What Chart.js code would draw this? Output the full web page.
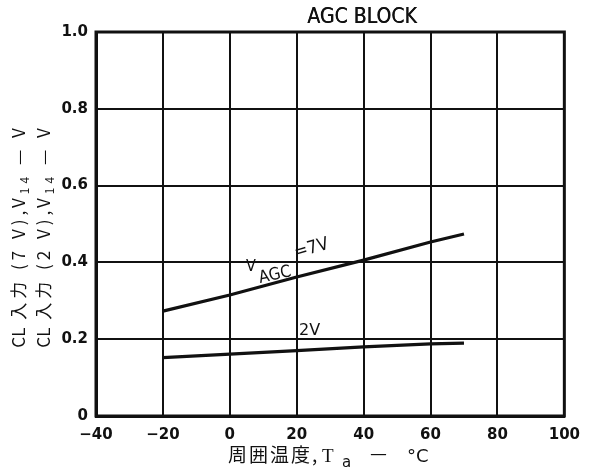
<!DOCTYPE html>
<html>
<head>
<meta charset="utf-8">
<script src="https://cdn.jsdelivr.net/npm/chart.js@4"></script>
<style>
  html, body { margin: 0; padding: 0; background: #fff; }
  #wrap { width: 590px; height: 475px; }
</style>
</head>
<body>
<div id="wrap"><canvas id="c" width="590" height="475"></canvas></div>
<script>
// Ambient temperature (°C) and the CL input voltage V14 (V) for two AGC voltages
const temps = [-20, 0, 20, 40, 60, 70];
const vAgc7 = [0.273, 0.315, 0.362, 0.406, 0.453, 0.474];
const vAgc2 = [0.152, 0.161, 0.170, 0.180, 0.188, 0.190];

const xTicks = [-40, -20, 0, 20, 40, 60, 80, 100];
const yTicks = [0, 0.2, 0.4, 0.6, 0.8, 1.0];
const yTickLabels = ['0', '0.2', '0.4', '0.6', '0.8', '1.0'];

const titleText = 'AGC BLOCK';
const yTitle1 = [{t: 'CL', tight: true}, {t: ' 入力 (7 V),V'}, {t: '14', sub: true}, {t: ' — V'}];
const yTitle2 = [{t: 'CL', tight: true}, {t: ' 入力 (2 V),V'}, {t: '14', sub: true}, {t: ' — V'}];

const pts = (ys) => temps.map((t, i) => ({x: t, y: ys[i]}));

const INK = '#111';
const JP = '"Noto Sans CJK JP", "DejaVu Sans", sans-serif';
const SPACING = '4px';

// Text runs with subscript parts and optional tight (unspaced) parts
function setPart(ctx, p, font, subFont) {
  ctx.font = p.sub ? subFont : font;
  ctx.letterSpacing = p.tight ? '0px' : SPACING;
}
function richWidth(ctx, parts, font, subFont) {
  let w = 0;
  for (const p of parts) { setPart(ctx, p, font, subFont); w += ctx.measureText(p.t).width; }
  return w;
}
function drawRich(ctx, parts, x, y, font, subFont, subDrop) {
  let cx = x;
  for (const p of parts) {
    setPart(ctx, p, font, subFont);
    ctx.fillText(p.t, cx, p.sub ? y + subDrop : y);
    cx += ctx.measureText(p.t).width;
  }
}

const labels = {
  id: 'labels',
  afterDraw(chart) {
    const ctx = chart.ctx;
    ctx.save();
    ctx.fillStyle = INK;
    ctx.textBaseline = 'alphabetic';
    ctx.textAlign = 'left';

    // title
    ctx.font = '21px "Liberation Sans Narrow", "DejaVu Sans Condensed", sans-serif';
    ctx.textAlign = 'center';
    ctx.fillText(titleText, 362, 23);
    ctx.fillText(titleText, 362.4, 23);
    ctx.textAlign = 'left';

    // rotated y-axis titles
    const yf = '17px ' + JP, ysf = '12px ' + JP;
    [[yTitle1, 25], [yTitle2, 50]].forEach(([parts, bx]) => {
      const w = richWidth(ctx, parts, yf, ysf);
      ctx.save();
      ctx.translate(bx, 236);
      ctx.rotate(-Math.PI / 2);
      drawRich(ctx, parts, -w / 2, 0, yf, ysf, 4);
      ctx.restore();
    });

    // x-axis title
    ctx.letterSpacing = '2px';
    ctx.font = '19px ' + JP;
    ctx.fillText('周囲温度', 228, 462);
    ctx.letterSpacing = '0px';
    ctx.fillText(',', 312, 462);
    ctx.font = '19px "Liberation Serif", serif';
    ctx.fillText('T', 322, 462);
    ctx.font = '15px "DejaVu Sans", sans-serif';
    ctx.fillText('a', 342, 467);
    ctx.font = '19px ' + JP;
    ctx.fillText('—', 370, 460);
    ctx.font = '18px "DejaVu Sans", sans-serif';
    ctx.fillText('°C', 407, 462);

    // series labels
    ctx.font = '16px "DejaVu Sans Condensed", "DejaVu Sans", sans-serif';
    ctx.fillText('V', 246, 271);
    ctx.save();
    ctx.translate(260, 283);
    ctx.rotate(-0.22);
    ctx.font = '17px "DejaVu Sans Condensed", "DejaVu Sans", sans-serif';
    ctx.fillText('AGC', 0, 0);
    ctx.restore();
    ctx.save();
    ctx.translate(296, 258);
    ctx.rotate(-0.28);
    ctx.font = '18px "DejaVu Sans Condensed", "DejaVu Sans", sans-serif';
    ctx.fillText('=7V', 0, 0);
    ctx.restore();

    ctx.font = '16px "DejaVu Sans", sans-serif';
    ctx.fillText('2V', 299, 335);
    ctx.restore();
  }
};

new Chart(document.getElementById('c'), {
  type: 'line',
  data: {
    datasets: [
      {label: 'VAGC=7V', data: pts(vAgc7), borderColor: INK, borderWidth: 3.2, pointRadius: 0, tension: 0},
      {label: '2V', data: pts(vAgc2), borderColor: INK, borderWidth: 3.2, pointRadius: 0, tension: 0}
    ]
  },
  options: {
    responsive: false,
    animation: false,
    devicePixelRatio: 1,
    layout: {padding: {left: 0, right: 25, top: 32, bottom: 0}},
    plugins: {legend: {display: false}, tooltip: {enabled: false}, title: {display: false}},
    scales: {
      x: {
        type: 'linear', min: -40, max: 100,
        afterBuildTicks: (s) => { s.ticks = xTicks.map(v => ({value: v})); },
        afterFit: (s) => { s.height = 59; },
        grid: {color: INK, lineWidth: 2, drawTicks: false},
        border: {color: INK, width: 3},
        ticks: {
          padding: 10, color: INK, maxRotation: 0,
          font: {family: '"DejaVu Sans", sans-serif', size: 15, weight: 'bold'},
          callback: (v) => (v < 0 ? '\u2212' + Math.abs(v) : String(v))
        }
      },
      y: {
        type: 'linear', min: 0, max: 1.0,
        afterBuildTicks: (s) => { s.ticks = yTicks.map(v => ({value: v})); },
        afterFit: (s) => { s.width = 96; },
        grid: {color: INK, lineWidth: 2, drawTicks: false},
        border: {color: INK, width: 3},
        ticks: {
          padding: 8, color: INK,
          font: {family: '"DejaVu Sans", sans-serif', size: 15, weight: 'bold'},
          callback: (v) => yTickLabels[yTicks.findIndex(t => Math.abs(t - v) < 1e-9)]
        }
      }
    }
  },
  plugins: [labels, {
    id: 'frame',
    afterDatasetsDraw(chart) {
      const {ctx, chartArea: a} = chart;
      ctx.save();
      ctx.strokeStyle = INK;
      ctx.lineWidth = 3;
      ctx.strokeRect(a.left, a.top, a.right - a.left, a.bottom - a.top);
      ctx.restore();
    }
  }]
});
</script>
</body>
</html>
